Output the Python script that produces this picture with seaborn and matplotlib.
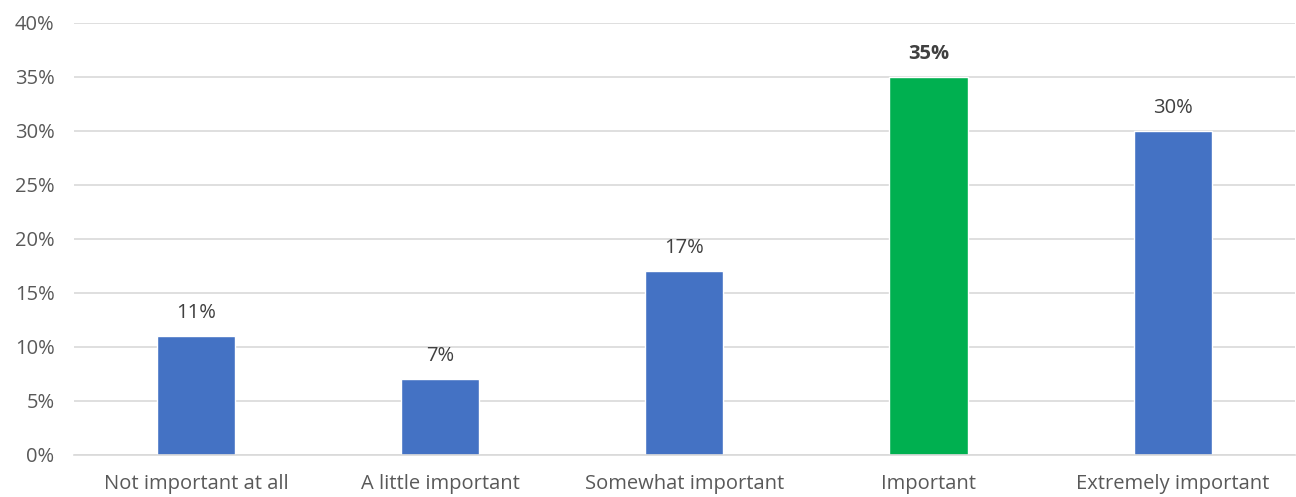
import matplotlib
matplotlib.use("Agg")

import matplotlib.pyplot as plt
import pandas as pd
import seaborn as sns

# ── Data ──
categories = ["Not important at all", "A little important", "Somewhat important",
              "Important", "Extremely important"]
shares = [11, 7, 17, 35, 30]
bar_colors = ["#4472C4", "#4472C4", "#4472C4", "#00B050", "#4472C4"]
highlight = "Important"

df = pd.DataFrame({"category": categories, "share": shares})

sns.set_theme(style="white")
plt.rcParams["font.family"] = ["Open Sans", "DejaVu Sans"]

fig = plt.figure(figsize=(12.96, 4.97), dpi=100)
ax = fig.add_axes([0.057, 0.085, 0.942, 0.869])

sns.barplot(data=df, x="category", y="share", hue="category", palette=bar_colors,
            width=0.32, legend=False, ax=ax, saturation=1)

ax.set_ylim(0, 40)
ax.set_yticks(range(0, 41, 5))
ax.set_yticklabels([f"{v}%" for v in range(0, 41, 5)])
ax.yaxis.grid(True, color="#D9D9D9", linewidth=1.2)
ax.set_axisbelow(True)
for side in ["top", "right", "left"]:
    ax.spines[side].set_visible(False)
ax.spines["bottom"].set_color("#D9D9D9")
ax.spines["bottom"].set_linewidth(1.2)
ax.set_xlabel("")
ax.set_ylabel("")
ax.tick_params(axis="both", length=0, labelsize=14.5, colors="#595959")
ax.tick_params(axis="y", pad=14)
ax.tick_params(axis="x", pad=14)
ax.set_xlim(-0.5, len(categories) - 0.5)

for i, (cat, val) in enumerate(zip(categories, shares)):
    bold = cat == highlight
    ax.text(i, val + 1.2, f"{val}%", ha="center", va="bottom", fontsize=14.5,
            color="#404040", fontweight="bold" if bold else "normal")

plt.savefig("out.png", dpi=100)
plt.close()
